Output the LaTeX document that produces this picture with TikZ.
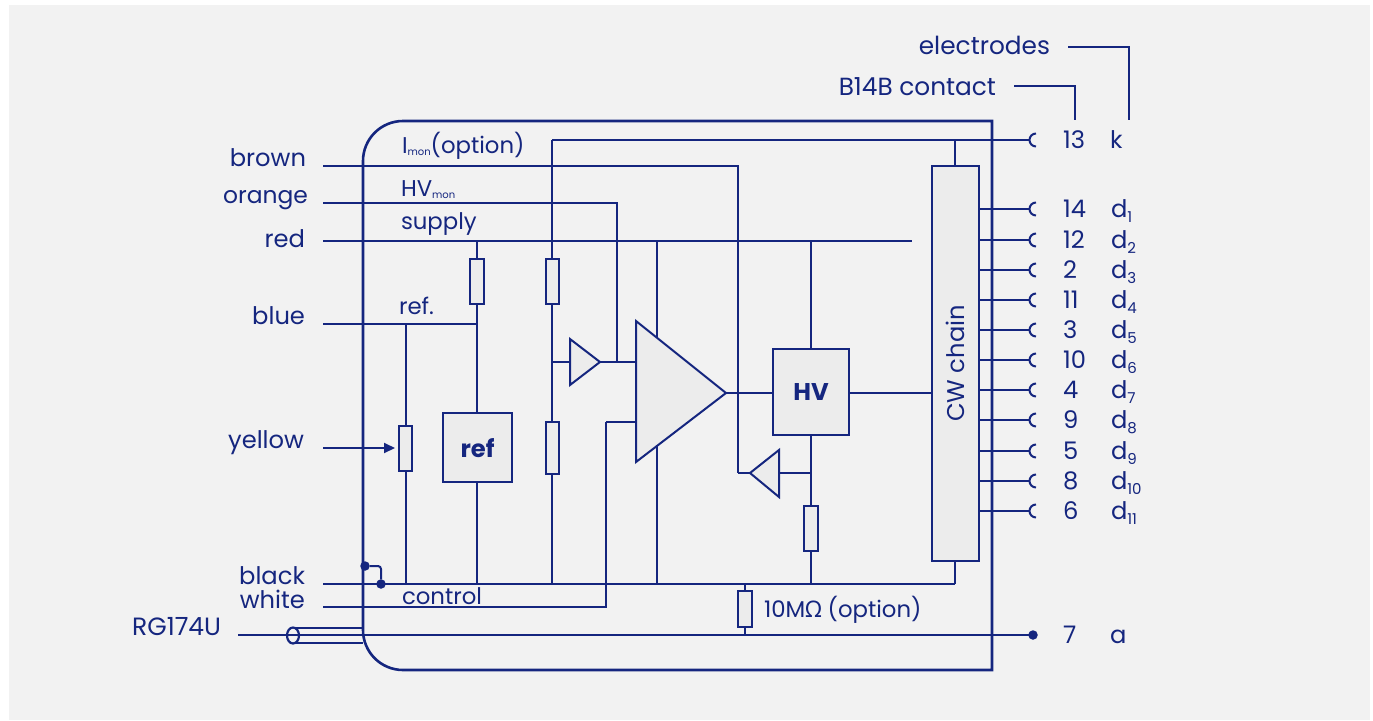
\documentclass[tikz,border=0pt]{standalone}
\usepackage{fontspec}
\setmainfont{Poppins}
\newfontfamily\omegafont{Noto Sans}
\usetikzlibrary{arrows.meta}
\definecolor{ink}{HTML}{15267F}
\definecolor{panel}{HTML}{F2F2F2}
\definecolor{part}{HTML}{ECECEC}
\newcommand{\txtsz}{\fontsize{24.2}{27}\selectfont}
\newcommand{\innersz}{\fontsize{22.8}{26}\selectfont}
\newcommand{\subsz}{\fontsize{15}{16}\selectfont}
\newcommand{\tinysz}{\fontsize{10}{11}\selectfont}
\tikzset{
 wire/.style={draw=ink,line width=2pt,line join=miter},
 partbox/.style={draw=ink,line width=2pt,fill=part,inner sep=0pt,outer sep=0pt,rectangle},
 res/.style={partbox,minimum width=13.5pt,minimum height=45pt},
 lbl/.style={text=ink,font=\txtsz,inner sep=0pt,outer sep=0pt,yshift=-5.5pt},
 lblR/.style={lbl,anchor=mid east},
 lblL/.style={lbl,anchor=mid west},
 lblI/.style={lblL,font=\innersz},
 dotn/.style={circle,fill=ink,draw=none,minimum size=9.5pt,inner sep=0pt,outer sep=0pt},
 termarc/.style={draw=ink,line width=2pt},
}
\begin{document}
\begin{tikzpicture}[x=1pt,y=-1pt]
\useasboundingbox (0,0) rectangle (1373,720);
\fill[white] (0,0) rectangle (1373,720);
\fill[panel] (9,5) rectangle (1370,720);

% free ends and junctions
\coordinate (kT) at (552,140); \coordinate (kP) at (1030,140);
\coordinate (brS) at (323,166); \coordinate (brC) at (738,166); \coordinate (brD) at (738,473);
\coordinate (orS) at (323,203); \coordinate (orC) at (617,203); \coordinate (orD) at (617,362);
\coordinate (rdS) at (323,241); \coordinate (rdE) at (912,241);
\coordinate (blS) at (323,324); \coordinate (blE) at (477,324); \coordinate (blJ) at (406,324);
\coordinate (yeS) at (323,448); \coordinate (yeE) at (395,448);
\coordinate (bkS) at (323,584); \coordinate (bkE) at (955,584);
\coordinate (whS) at (323,607); \coordinate (whC) at (606,607); \coordinate (whU) at (606,422);
\coordinate (cxS) at (238,635);
\coordinate (r1T) at (477,241); \coordinate (vT) at (657,241); \coordinate (hT) at (811,241);

% wires behind parts
\draw[wire] (brS) -- (brC) -- (brD);
\draw[wire] (orS) -- (orC) -- (orD);
\draw[wire] (rdS) -- (rdE);
\draw[wire] (blS) -- (blE);
\draw[wire] (bkS) -- (bkE);
\draw[wire] (whS) -- (whC) -- (whU);
\draw[wire] (kT) -- (kP);
\draw[wire] (kT) -- (552,584);
\draw[wire] (r1T) -- (477,584);
\draw[wire] (blJ) -- (406,584);
\draw[wire] (vT) -- (657,584);
\draw[wire] (hT) -- (811,584);
\draw[wire] (955,140) -- (955,584);
\draw[wire] (745,584) -- (745,635);
\draw[wire] (552,362) -- (636,362);
\draw[wire] (whU) -- (636,422);
\draw[wire] (brD) -- (811,473);
\draw[wire] (726,393) -- (932,393);

% main housing
\draw[draw=ink,line width=2.6pt,line join=miter] (992,121) [rounded corners=40pt] -- (363,121) -- (363,670) [sharp corners] -- (992,670) -- cycle;

% parts
\node[res] (r1) at (477,281.5) {};
\node[res] (r2) at (552.5,281.5) {};
\node[res,minimum height=52pt] (r3) at (552.5,448) {};
\node[res] (pot) at (405.5,448) {};
\node[res] (r4) at (811,528.5) {};
\node[res,minimum height=36pt] (r5) at (745,609) {};
\node[partbox,minimum width=69pt,minimum height=69pt] (ref) at (477.5,447.5) {};
\node[text=ink,font=\txtsz\bfseries,yshift=-1pt] at (ref.center) {ref};
\node[partbox,minimum width=76pt,minimum height=86pt] (hv) at (811,392) {};
\node[text=ink,font=\txtsz\bfseries] at (hv.center) {HV};
\node[partbox,minimum width=47pt,minimum height=395pt] (cw) at (955.5,363.5) {};
\node[text=ink,font=\txtsz,rotate=90] at (cw.center) {CW chain};
\draw[partbox] (636,321) -- (726,393) -- (636,462) -- cycle;
\draw[partbox] (570,339) -- (600,362) -- (570,385) -- cycle;
\draw[partbox] (779,450) -- (750,473) -- (779,497) -- cycle;

% yellow arrow towards the potentiometer
\draw[wire,-{Triangle[length=11pt,width=10pt]}] (yeS) -- (yeE);

% black / control link
\node[dotn] (d1) at (365,566) {};
\node[dotn] (d2) at (381,584) {};
\draw[wire,rounded corners=3pt] (d1) -- (381,566) -- (d2);

% coax
\draw[wire] (cxS) -- (1033,635);
\node[dotn] (ad) at (1033,635) {};
\draw[wire,line width=2.2pt] (293,628) -- (363,628);
\draw[wire,line width=2.2pt] (293,643) -- (363,643);
\draw[draw=ink,line width=2.2pt,fill=panel] (293,635.5) ellipse[x radius=6,y radius=8];
\draw[wire] (286,635) -- (300,635);

% right terminals
\foreach \yy/\nn/\dd in {209/14/1,240/12/2,270/2/3,300/11/4,330/3/5,360/10/6,390/4/7,420/9/8,451/5/9,481/8/10,511/6/11}{
  \draw[wire] (979,\yy) -- (1030,\yy);
  \draw[termarc] (1036,\yy-6.5) arc[start angle=270,end angle=90,radius=6.5];
  \node[lblL] at (1063,\yy) {\nn};
  \node[lblL] at (1111,\yy) {d\raisebox{-5pt}{\subsz\dd}};
}
\draw[termarc] (1036,133.5) arc[start angle=270,end angle=90,radius=6.5];
\node[lblL] at (1063,140) {13};
\node[lblL] at (1110,140) {k};
\node[lblL] at (1063,635) {7};
\node[lblL] at (1110,635) {a};

% header labels
\node[lblR] (elec) at (1050,46) {\fontsize{24.8}{27}\selectfont electrodes};
\node[lblR] (b14) at (996,87) {\fontsize{24.8}{27}\selectfont B14B contact};
\coordinate (eS) at (1068,47); \coordinate (eE) at (1129,120);
\coordinate (bS) at (1014,86); \coordinate (bE) at (1075,120);
\draw[wire] (eS) -| (eE);
\draw[wire] (bS) -| (bE);

% left labels
\node[lblR] at (306,158) {brown};
\node[lblR] at (308,195) {\fontsize{23.4}{27}\selectfont orange};
\node[lblR] at (305,239) {red};
\node[lblR] at (305,316) {blue};
\node[lblR] at (304,440) {yellow};
\node[lblR] at (305,576) {black};
\node[lblR] at (305,600) {white};
\node[lblR] at (221,627) {\fontsize{25}{27}\selectfont RG174U};

% inside labels
\node[lblI] at (402,145) {I\raisebox{-2pt}{\tinysz mon}(option)};
\node[lblI] at (401,188) {HV\raisebox{-2pt}{\tinysz mon}};
\node[lblI] at (401,221) {supply};
\node[lblI] at (399,306) {ref.};
\node[lblI] at (402,596) {control};
\node[lblI] at (764,609) {10M{\omegafont Ω} (option)};
\end{tikzpicture}
\end{document}
